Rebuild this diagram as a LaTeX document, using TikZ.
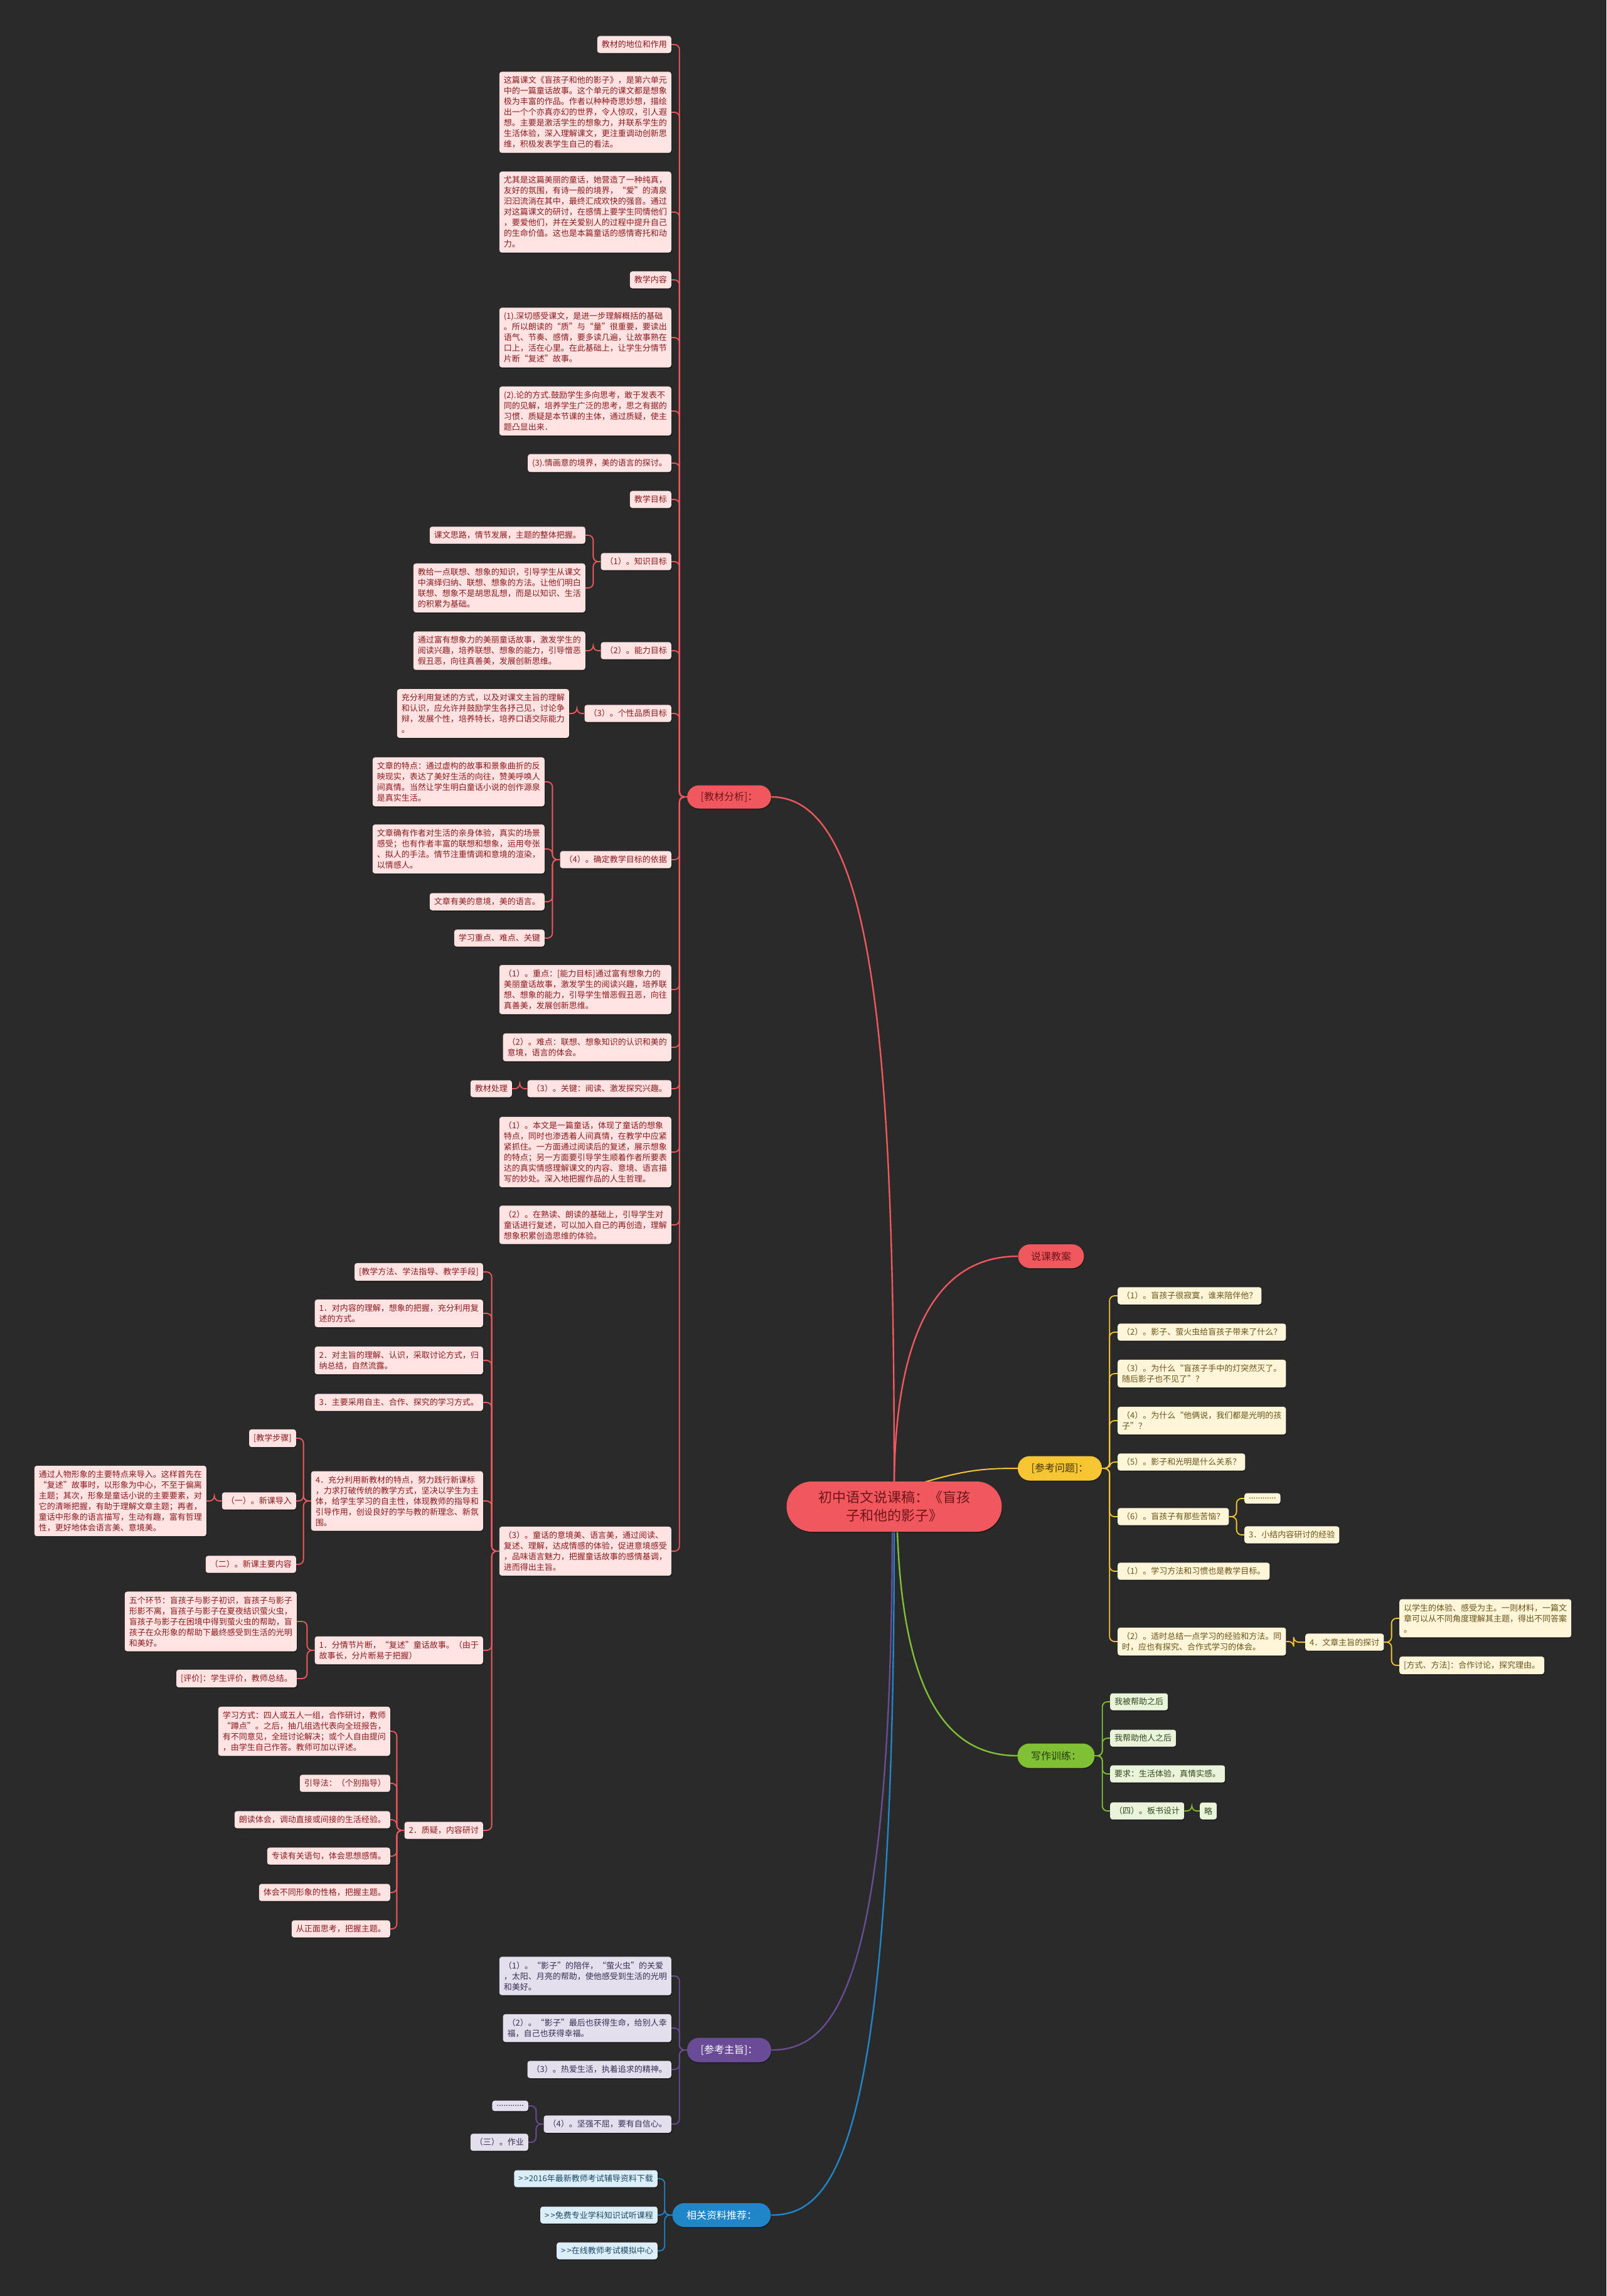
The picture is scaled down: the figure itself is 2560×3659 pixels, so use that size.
\documentclass[tikz,border=0pt]{standalone}
\usepackage{fontspec}
\setmainfont{Noto Sans CJK SC}
\usetikzlibrary{shadows}
\definecolor{bg}{RGB}{42,42,42}
\definecolor{red1}{RGB}{240,88,94}
\definecolor{redtx}{RGB}{110,22,28}
\definecolor{redfill}{RGB}{255,226,226}
\definecolor{redsub}{RGB}{140,26,30}
\definecolor{yel1}{RGB}{246,197,52}
\definecolor{yeltx}{RGB}{70,52,8}
\definecolor{yelfill}{RGB}{255,246,218}
\definecolor{yelsub}{RGB}{105,84,24}
\definecolor{grn1}{RGB}{128,192,52}
\definecolor{grntx}{RGB}{38,58,14}
\definecolor{grnfill}{RGB}{234,244,219}
\definecolor{grnsub}{RGB}{50,70,28}
\definecolor{pur1}{RGB}{106,76,150}
\definecolor{purfill}{RGB}{227,223,236}
\definecolor{pursub}{RGB}{58,46,86}
\definecolor{blu1}{RGB}{32,134,200}
\definecolor{blufill}{RGB}{220,239,248}
\definecolor{blusub}{RGB}{28,72,102}
\newcommand\Lk[3]{\draw[#1] (#2.west) -- ++(-12,0) |- (#3.east);}
\newcommand\Rk[3]{\draw[#1] (#2.east) -- ++(12,0) |- (#3.west);}
\tikzset{
  sub/.style={rounded corners=4pt, inner xsep=7pt, inner ysep=7.5pt, align=left,
    font=\fontsize{13}{17}\selectfont,
    drop shadow={shadow xshift=0.8pt,shadow yshift=-1.5pt,fill=black,opacity=0.45}},
  rs/.style={sub, fill=redfill, text=redsub},
  ys/.style={sub, fill=yelfill, text=yelsub},
  gs/.style={sub, fill=grnfill, text=grnsub},
  ps/.style={sub, fill=purfill, text=pursub},
  bs/.style={sub, fill=blufill, text=blusub},
  mainnode/.style={rounded corners=19pt, inner sep=2pt, font=\fontsize{16}{20}\selectfont,
    minimum height=38pt, drop shadow={shadow xshift=0.8pt,shadow yshift=-1.5pt,fill=black,opacity=0.4}},
  rl/.style={draw=red1, line width=1.8pt, rounded corners=8pt},
  yl/.style={draw=yel1, line width=1.8pt, rounded corners=8pt},
  gl/.style={draw=grn1, line width=1.8pt, rounded corners=8pt},
  pl/.style={draw=pur1, line width=1.8pt, rounded corners=8pt},
  bl/.style={draw=blu1, line width=1.8pt, rounded corners=8pt},
}
\begin{document}
\begin{tikzpicture}[x=1pt,y=-1pt]
\fill[bg] (0,0) rectangle (2560,3659);
\useasboundingbox (0,0) rectangle (2560,3659);

% ---------- center and main branches ----------
\draw[red1, line width=2.4pt] (1425,2362) .. controls (1425,1650) and (1390,1270) .. (1229,1270);
\draw[red1, line width=2.4pt] (1425,2362) .. controls (1428,2080) and (1520,2002) .. (1622,2002);
\draw[yel1, line width=2pt] (1470,2363) .. controls (1540,2342) and (1570,2340) .. (1622,2340);
\draw[grn1, line width=2.4pt] (1430,2440) .. controls (1440,2720) and (1520,2798) .. (1622,2798);
\draw[pur1, line width=2.4pt] (1422,2440) .. controls (1420,3170) and (1330,3267) .. (1229,3267);
\draw[blu1, line width=2.4pt] (1425,2440) .. controls (1425,3430) and (1330,3530) .. (1229,3530);

\node[mainnode, fill=red1, text=redtx, minimum width=343pt, minimum height=80pt, rounded corners=40pt,
  align=center, font=\fontsize{22}{29}\selectfont] (root) at (1425,2401) {初中语文说课稿：《盲孩\\子和他的影子》};
\node[mainnode, fill=red1, text=redtx, minimum width=134pt, minimum height=37pt] (jc) at (1162,1270) {[教材分析]：};
\node[mainnode, fill=red1, text=redtx, minimum width=105pt] (sk) at (1675,2002) {说课教案};
\node[mainnode, fill=yel1, text=yeltx, minimum width=134pt, minimum height=39pt] (cw) at (1689,2340) {[参考问题]：};
\node[mainnode, fill=grn1, text=grntx, minimum width=123pt, minimum height=39pt] (xz) at (1683,2798) {写作训练：};
\node[mainnode, fill=pur1, text=white, minimum width=134pt, minimum height=39pt] (zz) at (1162,3267) {[参考主旨]：};
\node[mainnode, fill=blu1, text=white, minimum width=157pt] (xg) at (1150,3530) {相关资料推荐：};

% ---------- red branch ----------
\node[rs,anchor=east] (a1) at (1070,71) {教材的地位和作用};
\node[rs,anchor=east] (a2) at (1070,179) {这篇课文《盲孩子和他的影子》，是第六单元\\中的一篇童话故事。这个单元的课文都是想象\\极为丰富的作品。作者以种种奇思妙想，描绘\\出一个个亦真亦幻的世界，令人惊叹，引人遐\\想。主要是激活学生的想象力，并联系学生的\\生活体验，深入理解课文，更注重调动创新思\\维，积极发表学生自己的看法。};
\node[rs,anchor=east] (a3) at (1070,338) {尤其是这篇美丽的童话，她营造了一种纯真，\\友好的氛围，有诗一般的境界，“爱”的清泉\\汩汩流淌在其中，最终汇成欢快的强音。通过\\对这篇课文的研讨，在感情上要学生同情他们\\，要爱他们，并在关爱别人的过程中提升自己\\的生命价值。这也是本篇童话的感情寄托和动\\力。};
\node[rs,anchor=east] (a4) at (1070,446) {教学内容};
\node[rs,anchor=east] (a5) at (1070,538) {(1).深切感受课文，是进一步理解概括的基础\\。所以朗读的“质”与“量”很重要，要读出\\语气、节奏、感情，要多读几遍，让故事熟在\\口上，活在心里。在此基础上，让学生分情节\\片断“复述”故事。};
\node[rs,anchor=east] (a6) at (1070,655) {(2).论的方式.鼓励学生多向思考，敢于发表不\\同的见解，培养学生广泛的思考，思之有据的\\习惯．质疑是本节课的主体，通过质疑，使主\\题凸显出来．};
\node[rs,anchor=east] (a7) at (1070,738) {(3).情画意的境界，美的语言的探讨。};
\node[rs,anchor=east] (a8) at (1070,796) {教学目标};
\node[rs,anchor=east] (a9) at (1070,895) {（1）。知识目标};
\node[rs,anchor=east] (a9a) at (933,853) {课文思路，情节发展，主题的整体把握。};
\node[rs,anchor=east] (a9b) at (933,937) {教给一点联想、想象的知识，引导学生从课文\\中演绎归纳、联想、想象的方法。让他们明白\\联想、想象不是胡思乱想，而是以知识、生活\\的积累为基础。};
\node[rs,anchor=east] (a10) at (1070,1037) {（2）。能力目标};
\node[rs,anchor=east] (a10a) at (933,1037) {通过富有想象力的美丽童话故事，激发学生的\\阅读兴趣，培养联想、想象的能力，引导憎恶\\假丑恶，向往真善美，发展创新思维。};
\node[rs,anchor=east] (a11) at (1070,1137) {（3）。个性品质目标};
\node[rs,anchor=east] (a11a) at (907,1137) {充分利用复述的方式，以及对课文主旨的理解\\和认识，应允许并鼓励学生各抒己见，讨论争\\辩，发展个性，培养特长，培养口语交际能力\\。};
\node[rs,anchor=east] (a12) at (1070,1370) {（4）。确定教学目标的依据};
\node[rs,anchor=east] (a12a) at (868,1246) {文章的特点：通过虚构的故事和景象曲折的反\\映现实，表达了美好生活的向往，赞美呼唤人\\间真情。当然让学生明白童话小说的创作源泉\\是真实生活。};
\node[rs,anchor=east] (a12b) at (868,1353) {文章确有作者对生活的亲身体验，真实的场景\\感受；也有作者丰富的联想和想象，运用夸张\\、拟人的手法。情节注重情调和意境的渲染，\\以情感人。};
\node[rs,anchor=east] (a12c) at (868,1437) {文章有美的意境，美的语言。};
\node[rs,anchor=east] (a12d) at (868,1495) {学习重点、难点、关键};
\node[rs,anchor=east] (a13) at (1070,1577) {（1）。重点：[能力目标]通过富有想象力的\\美丽童话故事，激发学生的阅读兴趣，培养联\\想、想象的能力，引导学生憎恶假丑恶，向往\\真善美，发展创新思维。};
\node[rs,anchor=east] (a14) at (1070,1669) {（2）。难点：联想、想象知识的认识和美的\\意境，语言的体会。};
\node[rs,anchor=east] (a15) at (1070,1735) {（3）。关键：阅读、激发探究兴趣。};
\node[rs,anchor=east] (a15a) at (816,1735) {教材处理};
\node[rs,anchor=east] (a16) at (1070,1836) {（1）。本文是一篇童话，体现了童话的想象\\特点，同时也渗透着人间真情，在教学中应紧\\紧抓住。一方面通过阅读后的复述，展示想象\\的特点；另一方面要引导学生顺着作者所要表\\达的真实情感理解课文的内容、意境、语言描\\写的妙处。深入地把握作品的人生哲理。};
\node[rs,anchor=east] (a17) at (1070,1952) {（2）。在熟读、朗读的基础上，引导学生对\\童话进行复述，可以加入自己的再创造，理解\\想象积累创造思维的体验。};
\node[rs,anchor=east] (a18) at (1070,2472) {（3）。童话的意境美、语言美，通过阅读、\\复述、理解，达成情感的体验，促进意境感受\\，品味语言魅力，把握童话故事的感情基调，\\进而得出主旨。};

\node[rs,anchor=east] (b1) at (770,2027) {[教学方法、学法指导、教学手段]};
\node[rs,anchor=east] (b2) at (770,2093) {1．对内容的理解，想象的把握，充分利用复\\述的方式。};
\node[rs,anchor=east] (b3) at (770,2168) {2．对主旨的理解、认识，采取讨论方式，归\\纳总结，自然流露。};
\node[rs,anchor=east] (b4) at (770,2235) {3．主要采用自主、合作、探究的学习方式。};
\node[rs,anchor=east] (b5) at (770,2392) {4．充分利用新教材的特点，努力践行新课标\\，力求打破传统的教学方式，坚决以学生为主\\体，给学生学习的自主性，体现教师的指导和\\引导作用，创设良好的学与教的新理念、新氛\\围。};
\node[rs,anchor=east] (c1) at (472,2292) {[教学步骤]};
\node[rs,anchor=east] (c2) at (472,2392) {（一）。新课导入};
\node[rs,anchor=east] (c2a) at (329,2392) {通过人物形象的主要特点来导入。这样首先在\\“复述”故事时，以形象为中心，不至于偏离\\主题；其次，形象是童话小说的主要要素，对\\它的清晰把握，有助于理解文章主题；再者，\\童话中形象的语言描写，生动有趣，富有哲理\\性，更好地体会语言美、意境美。};
\node[rs,anchor=east] (c3) at (472,2493) {（二）。新课主要内容};
\node[rs,anchor=east] (b6) at (770,2630) {1．分情节片断，“复述”童话故事。（由于\\故事长，分片断易于把握）};
\node[rs,anchor=east] (b6a) at (473,2584) {五个环节：盲孩子与影子初识，盲孩子与影子\\形影不离，盲孩子与影子在夏夜结识萤火虫，\\盲孩子与影子在困境中得到萤火虫的帮助，盲\\孩子在众形象的帮助下最终感受到生活的光明\\和美好。};
\node[rs,anchor=east] (b6b) at (473,2675) {[评价]：学生评价，教师总结。};
\node[rs,anchor=east] (b7) at (770,2917) {2．质疑，内容研讨};
\node[rs,anchor=east] (b7a) at (622,2759) {学习方式：四人或五人一组，合作研讨，教师\\“蹲点”。之后，抽几组选代表向全班报告，\\有不同意见，全班讨论解决；或个人自由提问\\，由学生自己作答。教师可加以评述。};
\node[rs,anchor=east] (b7b) at (622,2842) {引导法：（个别指导）};
\node[rs,anchor=east] (b7c) at (622,2900) {朗读体会，调动直接或间接的生活经验。};
\node[rs,anchor=east] (b7d) at (622,2958) {专读有关语句，体会思想感情。};
\node[rs,anchor=east] (b7e) at (622,3016) {体会不同形象的性格，把握主题。};
\node[rs,anchor=east] (b7f) at (622,3074) {从正面思考，把握主题。};

\foreach \c in {a1,a2,a3,a4,a5,a6,a7,a8,a9,a10,a11,a12,a13,a14,a15,a16,a17,a18}{\Lk{rl}{jc}{\c}}
\Lk{rl}{a9}{a9a} \Lk{rl}{a9}{a9b}
\Lk{rl}{a10}{a10a}
\Lk{rl}{a11}{a11a}
\foreach \c in {a12a,a12b,a12c,a12d}{\Lk{rl}{a12}{\c}}
\Lk{rl}{a15}{a15a}
\foreach \c in {b1,b2,b3,b4,b5,b6,b7}{\Lk{rl}{a18}{\c}}
\foreach \c in {c1,c2,c3}{\Lk{rl}{b5}{\c}}
\Lk{rl}{c2}{c2a}
\Lk{rl}{b6}{b6a} \Lk{rl}{b6}{b6b}
\foreach \c in {b7a,b7b,b7c,b7d,b7e,b7f}{\Lk{rl}{b7}{\c}}

% ---------- yellow branch ----------
\node[ys,anchor=west] (y1) at (1781,2065) {（1）。盲孩子很寂寞，谁来陪伴他？};
\node[ys,anchor=west] (y2) at (1781,2123) {（2）。影子、萤火虫给盲孩子带来了什么？};
\node[ys,anchor=west] (y3) at (1781,2189) {（3）。为什么“盲孩子手中的灯突然灭了。\\随后影子也不见了”？};
\node[ys,anchor=west] (y4) at (1781,2264) {（4）。为什么“他俩说，我们都是光明的孩\\子”？};
\node[ys,anchor=west] (y5) at (1781,2330) {（5）。影子和光明是什么关系？};
\node[ys,anchor=west] (y6) at (1781,2417) {（6）。盲孩子有那些苦恼？};
\node[ys,anchor=west] (y6a) at (1983,2388) {............};
\node[ys,anchor=west] (y6b) at (1983,2446) {3．小结内容研讨的经验};
\node[ys,anchor=west] (y7) at (1781,2504) {（1）。学习方法和习惯也是教学目标。};
\node[ys,anchor=west] (y8) at (1781,2616) {（2）。适时总结一点学习的经验和方法。同\\时，应也有探究、合作式学习的体会。};
\node[ys,anchor=west] (y9) at (2080,2617) {4．文章主旨的探讨};
\node[ys,anchor=west] (y9a) at (2230,2579) {以学生的体验、感受为主。一则材料，一篇文\\章可以从不同角度理解其主题，得出不同答案\\。};
\node[ys,anchor=west] (y9b) at (2230,2654) {[方式、方法]：合作讨论，探究理由。};
\foreach \c in {y1,y2,y3,y4,y5,y6,y7,y8}{\Rk{yl}{cw}{\c}}
\Rk{yl}{y6}{y6a} \Rk{yl}{y6}{y6b}
\Rk{yl}{y8}{y9}
\Rk{yl}{y9}{y9a} \Rk{yl}{y9}{y9b}

% ---------- green branch ----------
\node[gs,anchor=west] (g1) at (1769,2712) {我被帮助之后};
\node[gs,anchor=west] (g2) at (1769,2770) {我帮助他人之后};
\node[gs,anchor=west] (g3) at (1769,2827) {要求：生活体验，真情实感。};
\node[gs,anchor=west] (g4) at (1769,2886) {（四）。板书设计};
\node[gs,anchor=west] (g4a) at (1912,2886) {略};
\foreach \c in {g1,g2,g3,g4}{\Rk{gl}{xz}{\c}}
\Rk{gl}{g4}{g4a}

% ---------- purple branch ----------
\node[ps,anchor=east] (p1) at (1070,3149) {（1）。“影子”的陪伴，“萤火虫”的关爱\\，太阳、月亮的帮助，使他感受到生活的光明\\和美好。};
\node[ps,anchor=east] (p2) at (1070,3232) {（2）。“影子”最后也获得生命，给别人幸\\福，自己也获得幸福。};
\node[ps,anchor=east] (p3) at (1070,3298) {（3）。热爱生活，执着追求的精神。};
\node[ps,anchor=east] (p4) at (1070,3385) {（4）。坚强不屈，要有自信心。};
\node[ps,anchor=east] (p4a) at (842,3356) {............};
\node[ps,anchor=east] (p4b) at (842,3414) {（三）。作业};
\foreach \c in {p1,p2,p3,p4}{\Lk{pl}{zz}{\c}}
\Lk{pl}{p4}{p4a} \Lk{pl}{p4}{p4b}

% ---------- blue branch ----------
\node[bs,anchor=east] (q1) at (1048,3472) {>{}\,>{}2016年最新教师考试辅导资料下载};
\node[bs,anchor=east] (q2) at (1048,3530) {>{}\,>{}免费专业学科知识试听课程};
\node[bs,anchor=east] (q3) at (1048,3587) {>{}\,>{}在线教师考试模拟中心};
\foreach \c in {q1,q2,q3}{\Lk{bl}{xg}{\c}}
\end{tikzpicture}
\end{document}
